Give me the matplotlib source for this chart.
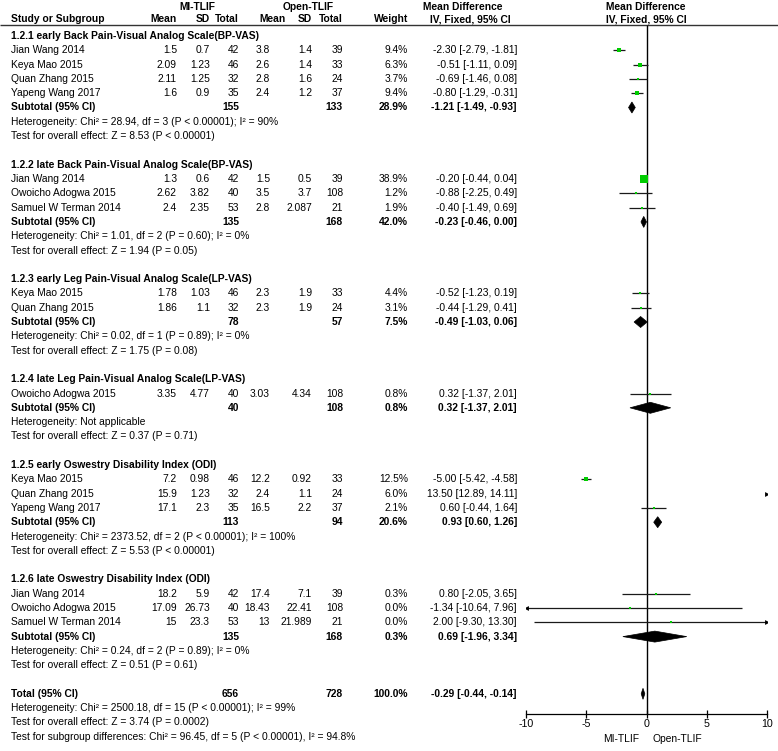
import numpy as np
import matplotlib.pyplot as plt

plt.rcParams['font.family'] = ['Liberation Sans', 'DejaVu Sans']
plt.rcParams['axes.unicode_minus'] = False
FS = 7.4

# subgroup titles
section_titles = [
    "1.2.1 early Back Pain-Visual Analog Scale(BP-VAS)",
    "1.2.2 late Back Pain-Visual Analog Scale(BP-VAS)",
    "1.2.3 early Leg Pain-Visual Analog Scale(LP-VAS)",
    "1.2.4 late Leg Pain-Visual Analog Scale(LP-VAS)",
    "1.2.5 early Oswestry Disability Index (ODI)",
    "1.2.6 late Oswestry Disability Index (ODI)",
]

# one entry per study row
study_section = [0, 0, 0, 0, 1, 1, 1, 2, 2, 3, 4, 4, 4, 5, 5, 5]
study_names = [
    "Jian Wang 2014", "Keya Mao 2015", "Quan Zhang 2015", "Yapeng Wang 2017",
    "Jian Wang 2014", "Owoicho Adogwa 2015", "Samuel W Terman 2014",
    "Keya Mao 2015", "Quan Zhang 2015",
    "Owoicho Adogwa 2015",
    "Keya Mao 2015", "Quan Zhang 2015", "Yapeng Wang 2017",
    "Jian Wang 2014", "Owoicho Adogwa 2015", "Samuel W Terman 2014",
]
mi_mean = ["1.5", "2.09", "2.11", "1.6", "1.3", "2.62", "2.4", "1.78", "1.86",
           "3.35", "7.2", "15.9", "17.1", "18.2", "17.09", "15"]
mi_sd = ["0.7", "1.23", "1.25", "0.9", "0.6", "3.82", "2.35", "1.03", "1.1",
         "4.77", "0.98", "1.23", "2.3", "5.9", "26.73", "23.3"]
mi_n = [42, 46, 32, 35, 42, 40, 53, 46, 32, 40, 46, 32, 35, 42, 40, 53]
open_mean = ["3.8", "2.6", "2.8", "2.4", "1.5", "3.5", "2.8", "2.3", "2.3",
             "3.03", "12.2", "2.4", "16.5", "17.4", "18.43", "13"]
open_sd = ["1.4", "1.4", "1.6", "1.2", "0.5", "3.7", "2.087", "1.9", "1.9",
           "4.34", "0.92", "1.1", "2.2", "7.1", "22.41", "21.989"]
open_n = [39, 33, 24, 37, 39, 108, 21, 33, 24, 108, 33, 24, 37, 39, 108, 21]
weight = [9.4, 6.3, 3.7, 9.4, 38.9, 1.2, 1.9, 4.4, 3.1, 0.8, 12.5, 6.0, 2.1,
          0.3, 0.0, 0.0]
md = [-2.30, -0.51, -0.69, -0.80, -0.20, -0.88, -0.40, -0.52, -0.44, 0.32,
      -5.00, 13.50, 0.60, 0.80, -1.34, 2.00]
ci_lo = [-2.79, -1.11, -1.46, -1.29, -0.44, -2.25, -1.49, -1.23, -1.29, -1.37,
         -5.42, 12.89, -0.44, -2.05, -10.64, -9.30]
ci_hi = [-1.81, 0.09, 0.08, -0.31, 0.04, 0.49, 0.69, 0.19, 0.41, 2.01,
         -4.58, 14.11, 1.64, 3.65, 7.96, 13.30]

# subtotals
sub_mi_n = [155, 135, 78, 40, 113, 135]
sub_open_n = [133, 168, 57, 108, 94, 168]
sub_weight = [28.9, 42.0, 7.5, 0.8, 20.6, 0.3]
sub_md = [-1.21, -0.23, -0.49, 0.32, 0.93, 0.69]
sub_lo = [-1.49, -0.46, -1.03, -1.37, 0.60, -1.96]
sub_hi = [-0.93, 0.00, 0.06, 2.01, 1.26, 3.34]
sub_het = [
    "Heterogeneity: Chi² = 28.94, df = 3 (P < 0.00001); I² = 90%",
    "Heterogeneity: Chi² = 1.01, df = 2 (P = 0.60); I² = 0%",
    "Heterogeneity: Chi² = 0.02, df = 1 (P = 0.89); I² = 0%",
    "Heterogeneity: Not applicable",
    "Heterogeneity: Chi² = 2373.52, df = 2 (P < 0.00001); I² = 100%",
    "Heterogeneity: Chi² = 0.24, df = 2 (P = 0.89); I² = 0%",
]
sub_z = [
    "Test for overall effect: Z = 8.53 (P < 0.00001)",
    "Test for overall effect: Z = 1.94 (P = 0.05)",
    "Test for overall effect: Z = 1.75 (P = 0.08)",
    "Test for overall effect: Z = 0.37 (P = 0.71)",
    "Test for overall effect: Z = 5.53 (P < 0.00001)",
    "Test for overall effect: Z = 0.51 (P = 0.61)",
]

# overall
total_mi_n, total_open_n, total_weight = 656, 728, 100.0
total_md, total_lo, total_hi = -0.29, -0.44, -0.14
total_notes = [
    "Heterogeneity: Chi² = 2500.18, df = 15 (P < 0.00001); I² = 99%",
    "Test for overall effect: Z = 3.74 (P = 0.0002)",
    "Test for subgroup differences: Chi² = 96.45, df = 5 (P < 0.00001), I² = 94.8%",
]

W, H = 778, 751
fig = plt.figure(figsize=(W / 100, H / 100), dpi=100)
ax = fig.add_axes([0, 0, 1, 1])
ax.set_xlim(0, W)
ax.set_ylim(H, 0)
ax.axis('off')

# forest panel sits over the right part of the table
x_left, x_right, y_axis = 526, 767, 714
fx = fig.add_axes([x_left / W, 0, (x_right - x_left) / W, 1])
fx.set_xlim(-10, 10)
fx.set_ylim(H, 0)
fx.patch.set_visible(False)
for s in ['top', 'left', 'right']:
    fx.spines[s].set_visible(False)
fx.spines['bottom'].set_position(('data', y_axis))
fx.spines['bottom'].set_linewidth(0.9)
fx.set_xticks([-10, -5, 0, 5, 10])
fx.set_yticks([])
fx.tick_params(axis='x', direction='inout', length=5.5, width=0.9,
               labelsize=FS + 0.3, pad=1)

# column positions (right edges)
c_mi_mean, c_mi_sd, c_mi_n = 177, 210, 239
c_op_mean, c_op_sd, c_op_n = 270, 312, 343
c_w, c_ci = 408, 517
x_name = 11


def txt(x, y, s, ha='left', bold=False):
    ax.text(x, y, s, ha=ha, va='center', fontsize=FS,
            fontweight='bold' if bold else 'normal')


# header
txt(197, 7, "MI-TLIF", ha='center', bold=True)
txt(308, 7, "Open-TLIF", ha='center', bold=True)
txt(463, 7, "Mean Difference", ha='center', bold=True)
txt(646, 7, "Mean Difference", ha='center', bold=True)
txt(x_name, 19, "Study or Subgroup", bold=True)
txt(c_mi_mean, 19, "Mean", ha='right', bold=True)
txt(c_mi_sd, 19, "SD", ha='right', bold=True)
txt(c_mi_n, 19, "Total", ha='right', bold=True)
txt(286, 19, "Mean", ha='right', bold=True)
txt(c_op_sd, 19, "SD", ha='right', bold=True)
txt(c_op_n, 19, "Total", ha='right', bold=True)
txt(c_w, 19, "Weight", ha='right', bold=True)
txt(470, 19, "IV, Fixed, 95% CI", ha='center', bold=True)
txt(646, 19, "IV, Fixed, 95% CI", ha='center', bold=True)
ax.hlines(25, 0, W, color='#333333', lw=1.0)

fx.vlines(0, 25, y_axis, color='black', lw=1.0)
fx.text(-0.6, 739, "MI-TLIF", ha='right', va='center', fontsize=FS)
fx.text(0.5, 739, "Open-TLIF", ha='left', va='center', fontsize=FS)


def ci_text(m, lo, hi):
    return f"{m:.2f} [{lo:.2f}, {hi:.2f}]"


def diamond(y, m, lo, hi, h=5.5):
    fx.fill([lo, m, hi, m], [y, y - h, y, y + h], color='black', lw=0.5)


step = 14.3
y = 36
for k, title in enumerate(section_titles):
    txt(x_name, y, title, bold=True)
    y += step
    for i in [j for j, s in enumerate(study_section) if s == k]:
        txt(x_name, y, study_names[i])
        txt(c_mi_mean, y, mi_mean[i], ha='right')
        txt(c_mi_sd, y, mi_sd[i], ha='right')
        txt(c_mi_n, y, str(mi_n[i]), ha='right')
        txt(c_op_mean, y, open_mean[i], ha='right')
        txt(c_op_sd, y, open_sd[i], ha='right')
        txt(c_op_n, y, str(open_n[i]), ha='right')
        txt(c_w, y, f"{weight[i]:.1f}%", ha='right')
        txt(c_ci, y, ci_text(md[i], ci_lo[i], ci_hi[i]), ha='right')

        lo_c, hi_c = max(ci_lo[i], -10), min(ci_hi[i], 10)
        if lo_c < hi_c:
            fx.hlines(y, lo_c, hi_c, color='#1a1a1a', lw=0.9)
        if ci_lo[i] < -10:
            fx.plot(-10, y, marker='<', color='black', ms=3.5, mew=0)
        if ci_hi[i] > 10:
            fx.plot(10, y, marker='>', color='black', ms=3.5, mew=0)
        if -10 <= md[i] <= 10:
            side = max(2.0, 1.35 * np.sqrt(weight[i]))
            fx.plot(md[i], y, marker='s', color='#00cc00', mew=0,
                    ms=side * 0.72, zorder=3)
        y += step

    txt(x_name, y, "Subtotal (95% CI)", bold=True)
    txt(c_mi_n, y, str(sub_mi_n[k]), ha='right', bold=True)
    txt(c_op_n, y, str(sub_open_n[k]), ha='right', bold=True)
    txt(c_w, y, f"{sub_weight[k]:.1f}%", ha='right', bold=True)
    txt(c_ci, y, ci_text(sub_md[k], sub_lo[k], sub_hi[k]), ha='right', bold=True)
    diamond(y, sub_md[k], sub_lo[k], sub_hi[k])
    y += step
    txt(x_name, y, sub_het[k])
    y += step
    txt(x_name, y, sub_z[k])
    y += 2 * step

txt(x_name, y, "Total (95% CI)", bold=True)
txt(c_mi_n, y, str(total_mi_n), ha='right', bold=True)
txt(c_op_n, y, str(total_open_n), ha='right', bold=True)
txt(c_w, y, f"{total_weight:.1f}%", ha='right', bold=True)
txt(c_ci, y, ci_text(total_md, total_lo, total_hi), ha='right', bold=True)
diamond(y, total_md, total_lo, total_hi)
for note in total_notes:
    y += step
    txt(x_name, y, note)

fig.savefig("out.png", dpi=100)
